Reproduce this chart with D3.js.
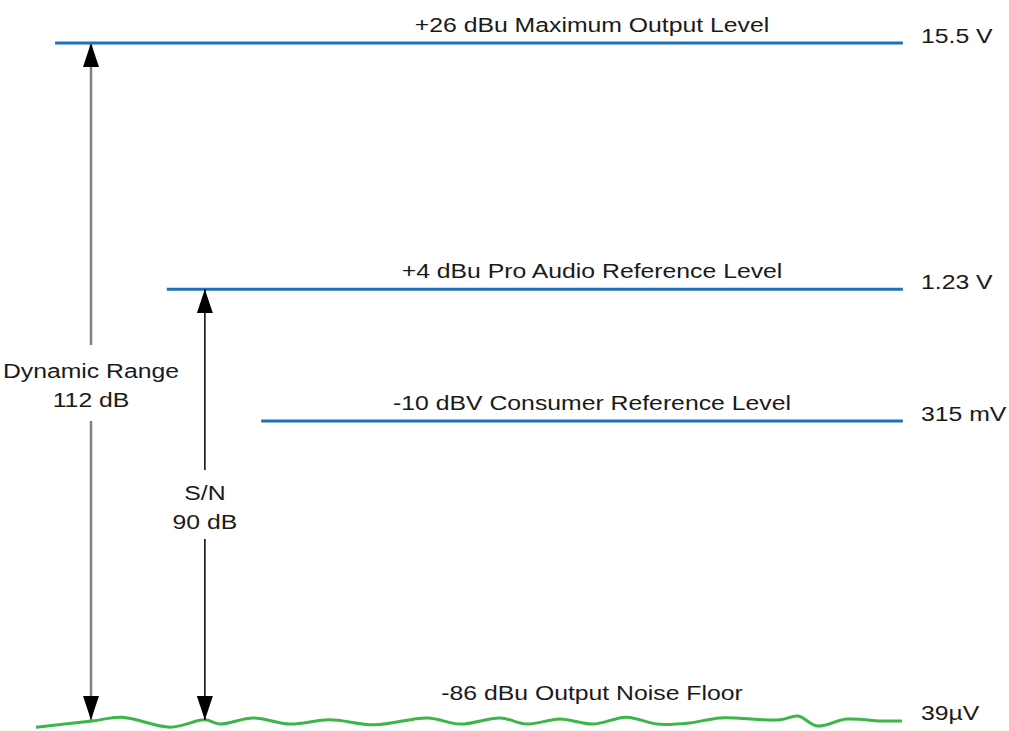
<!DOCTYPE html>
<html>
<head>
<meta charset="utf-8">
<script src="https://cdn.jsdelivr.net/npm/d3@7/dist/d3.min.js"></script>
<style>
  body { margin: 0; background: #fff; }
  text { font-family: "Liberation Sans", Arial, sans-serif; fill: #1a1a1a; font-size: 21px; }
</style>
</head>
<body>
<svg id="chart" width="1009" height="731"></svg>
<script>
// reference levels (dBu), their names and voltages
const levelNames = ["+26 dBu Maximum Output Level", "+4 dBu Pro Audio Reference Level", "-10 dBV Consumer Reference Level"];
const levelDbu = [26, 4, -7.78];
const levelVolts = ["15.5 V", "1.23 V", "315 mV"];

const floorName = "-86 dBu Output Noise Floor";
const floorDbu = -86;
const floorVolts = "39µV";

// noise floor ripple: position along the floor (0-100) and level in dBu
const ripplePos = [0, 6.5, 9.9, 15.5, 19.5, 21.2, 25.1, 29.3, 33.9, 39.1, 45.2, 49, 53.6, 56.7, 60.5, 64.3, 68.2, 71.7, 75.5, 79, 85.9, 88, 90.2, 93.6, 97.5, 100];
const rippleDbu = [-87.6, -86, -85, -87.6, -85.7, -86.8, -85.2, -86.8, -85.7, -87, -85.2, -86.8, -85.2, -86.8, -85.5, -86.8, -85, -86.8, -86.5, -85.2, -85.7, -84.7, -87.3, -85.5, -86, -86];

// spans between a level and the floor
const spanNames = ["Dynamic Range", "S/N"];
const spanTop = [26, 4];
const spanDb = ["112 dB", "90 dB"];

// layout (position along the floor, 0-100)
const lineStart = [2.2, 15.1, 26];
const lineEnd = 100.1;
const arrowPos = [6.35, 19.5];
const arrowStroke = ["#808080", "#111"];
const arrowWidth = [2.5, 1.6];
const arrowGap = [[345, 421], [470, 539]];
const stretch = 1.18; // the lettering in the picture is widened

const svg = d3.select("#chart");

const x = d3.scaleLinear().domain([0, 100]).range([36, 902]);
// broken axis: the floor sits far below the reference levels
const y = d3.scaleLinear().domain([floorDbu, -7.78, 26]).range([721, 421, 43]);

function label(px, py, str, anchor) {
  return svg.append("text")
    .attr("transform", `translate(${px},${py}) scale(${stretch},1)`)
    .attr("text-anchor", anchor || "start")
    .text(str);
}

const defs = svg.append("defs");
defs.append("marker")
  .attr("id", "head")
  .attr("viewBox", "0 0 24 16")
  .attr("refX", 24).attr("refY", 8)
  .attr("markerWidth", 24).attr("markerHeight", 16)
  .attr("markerUnits", "userSpaceOnUse")
  .attr("orient", "auto-start-reverse")
  .append("path")
  .attr("d", "M24,8 L0,0 L0,16 Z")
  .attr("fill", "#000");

// blue level lines
const levels = levelDbu.map((d, i) => ({ dbu: d, name: levelNames[i], volts: levelVolts[i], start: lineStart[i] }));

svg.selectAll(".level")
  .data(levels)
  .enter()
  .append("line")
  .attr("class", "level")
  .attr("x1", d => x(d.start))
  .attr("x2", x(lineEnd))
  .attr("y1", d => y(d.dbu))
  .attr("y2", d => y(d.dbu))
  .attr("stroke", "#1f72b8")
  .attr("stroke-width", 3);

levels.forEach(d => {
  label(592, y(d.dbu) - 11, d.name, "middle");
  label(921, y(d.dbu) - 0.5, d.volts);
});

// green noise floor
const ripple = ripplePos.map((p, i) => ({ p: p, dbu: rippleDbu[i] }));
svg.append("path")
  .datum(ripple)
  .attr("fill", "none")
  .attr("stroke", "#3db549")
  .attr("stroke-width", 3)
  .attr("d", d3.line().x(d => x(d.p)).y(d => y(d.dbu)).curve(d3.curveCatmullRom));

label(592, y(floorDbu) - 21, floorName, "middle");
label(921, y(floorDbu) - 1, floorVolts);

// double arrows, split around their labels
spanNames.forEach((name, i) => {
  const ax = x(arrowPos[i]);
  svg.append("line")
    .attr("x1", ax).attr("x2", ax)
    .attr("y1", y(spanTop[i])).attr("y2", arrowGap[i][0])
    .attr("stroke", arrowStroke[i]).attr("stroke-width", arrowWidth[i])
    .attr("marker-start", "url(#head)");
  svg.append("line")
    .attr("x1", ax).attr("x2", ax)
    .attr("y1", arrowGap[i][1]).attr("y2", y(floorDbu) - 1)
    .attr("stroke", arrowStroke[i]).attr("stroke-width", arrowWidth[i])
    .attr("marker-end", "url(#head)");
  const mid = (arrowGap[i][0] + arrowGap[i][1]) / 2;
  label(ax, mid - 5, name, "middle");
  label(ax, mid + 24, spanDb[i], "middle");
});
</script>
</body>
</html>
